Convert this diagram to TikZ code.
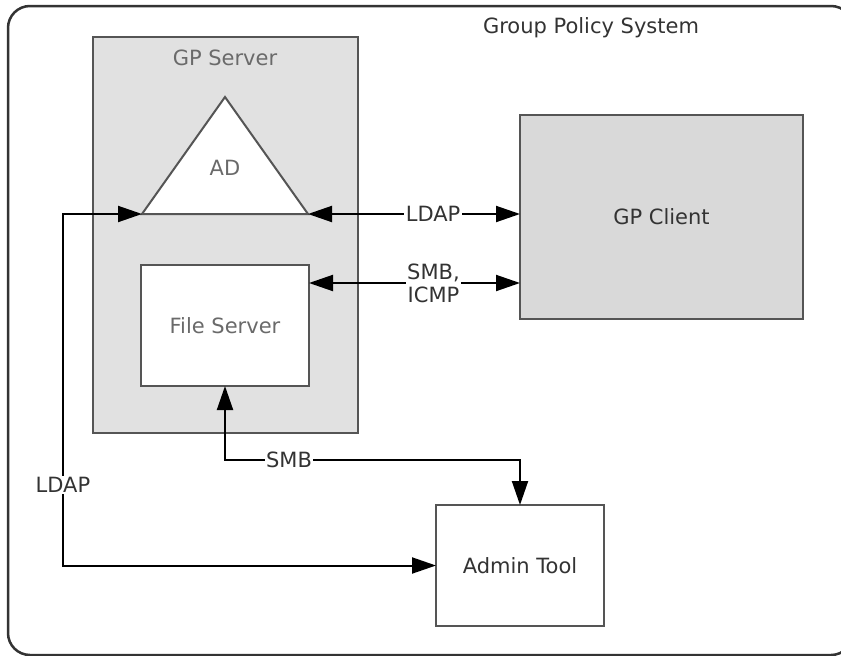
\documentclass[tikz,border=0pt]{standalone}
\usepackage{fontspec}
\setmainfont{DejaVu Sans}
\usetikzlibrary{arrows.meta}
\definecolor{frameline}{HTML}{333333}
\definecolor{boxline}{HTML}{555555}
\definecolor{serverfill}{HTML}{E1E1E1}
\definecolor{clientfill}{HTML}{D9D9D9}
\definecolor{softtext}{HTML}{6A6A6A}
\definecolor{darktext}{HTML}{333333}
\tikzset{
  box/.style={draw=boxline, line width=2pt, inner sep=0pt, outer sep=0pt,
              font=\fontsize{21}{25}\selectfont},
  caption/.style={font=\fontsize{21}{25}\selectfont, inner sep=1.5pt},
  link/.style={draw=black, line width=2pt, {Triangle[length=24pt,width=16pt]}-{Triangle[length=24pt,width=16pt]}},
  linklabel/.style={caption, fill=white, text=darktext, align=center}
}
\begin{document}
\begin{tikzpicture}[x=1pt, y=-1pt]
\useasboundingbox (0,0) rectangle (841,656);
\fill[white] (0,0) rectangle (841,656);

% outer system frame
\draw[frameline, line width=2.5pt, rounded corners=22pt] (8,6) rectangle (853,655);
\node[caption, text=darktext] (systitle) at (591,28) {Group Policy System};

% server side
\node[box, fill=serverfill, minimum width=265pt, minimum height=396pt] (gpserver) at (225.5,235) {};
\node[caption, text=softtext] (gpservertitle) at (225,58) {GP Server};

% directory triangle
\coordinate (adL) at (142,214);
\coordinate (adR) at (308,214);
\coordinate (adTop) at (225,97);
\draw[boxline, line width=2pt, fill=white, line join=miter] (adL) -- (adTop) -- (adR) -- cycle;
\node[caption, text=softtext] (ad) at (225,168) {AD};

\node[box, fill=white, text=softtext, minimum width=168pt, minimum height=121pt] (fileserver) at (225,325.5) {File Server};

% client and admin tool
\node[box, fill=clientfill, text=darktext, minimum width=283pt, minimum height=204pt] (gpclient) at (661.5,217) {GP Client};
\node[box, fill=white, text=darktext, minimum width=168pt, minimum height=121pt] (admin) at (520,565.5) {Admin Tool};

% connectors
\draw[link] (adR) -- (adR -| gpclient.west)
  node[linklabel, pos=0.59] (ldaplabel) {LDAP};

\coordinate (fsport) at (309,283);
\draw[link] (fsport) -- (fsport -| gpclient.west)
  node[linklabel, pos=0.59, font=\fontsize{21}{23}\selectfont] (smblabel) {SMB,\\ICMP};

\coordinate (ldapcorner) at (63,214);
\draw[link] (admin.west) -| (ldapcorner) -- (adL);
\node[linklabel] (ldapside) at (63,485) {LDAP};

\coordinate (smbrow) at (289,460);
\draw[link] (fileserver.south) |- (smbrow) -| (admin.north);
\node[linklabel] (smbbottom) at (smbrow) {SMB};
\end{tikzpicture}
\end{document}
